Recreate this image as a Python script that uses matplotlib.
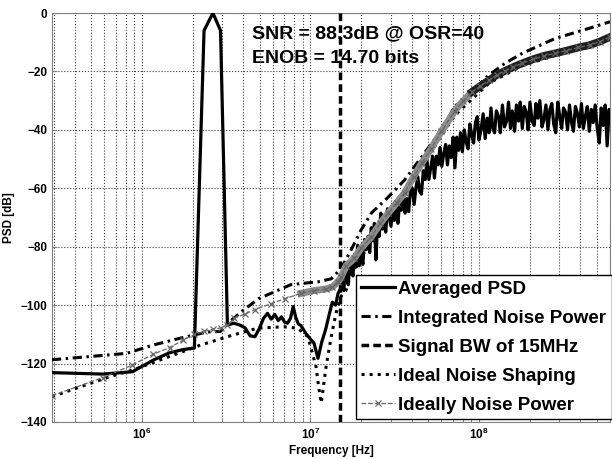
import numpy as np
import matplotlib.pyplot as plt
from matplotlib.ticker import NullFormatter

plt.rcParams['font.family'] = ['Liberation Sans', 'DejaVu Sans']
plt.rcParams['font.weight'] = 'bold'
plt.rcParams['mathtext.fontset'] = 'custom'
plt.rcParams['mathtext.rm'] = 'Liberation Sans:bold'
plt.rcParams['mathtext.bf'] = 'Liberation Sans:bold'

# averaged PSD, low part (FFT bins, MHz / dB)
psd_lo_f = [0.293, 0.586, 0.879, 1.17, 1.46, 1.76, 2.05, 2.34, 2.64, 2.93,
            3.22, 3.52, 3.81, 4.10, 4.39, 4.69, 4.98, 5.27, 5.57, 5.86,
            6.15, 6.45, 6.74, 7.03, 7.32, 7.62, 7.91, 8.20, 8.50, 8.79,
            9.38, 9.96, 10.5, 11.1, 11.7, 12.3, 12.9, 13.5, 14.1, 14.6, 15.2]
psd_lo_db = [-123.1, -123.6, -122.8, -118.8, -116.3, -115.2, -114.7, -6, 0, -6,
             -106.8, -106.2, -106.8, -107.8, -110.5, -110.8, -108, -104.5, -102.8, -104.8,
             -103.2, -105.3, -104, -105.8, -106.2, -104.5, -100.5, -104.3, -106.5, -107,
             -109.6, -111.5, -113, -118.2, -112.5, -108.5, -103.5, -99, -100, -96, -94]

# averaged PSD, noisy part above the signal band (MHz / dB)
psd_hi_f = [15.5, 15.8, 16.1, 16.4, 16.8, 17.1, 17.5, 17.9, 18.3, 18.7,
            19.1, 19.5, 20.0, 20.5, 21.0, 21.5, 22.0, 22.5, 23.0, 23.5,
            24.0, 24.5, 25.0, 25.6, 26.2, 26.8, 27.4, 28.0, 28.7, 29.4,
            30.1, 30.8, 31.5, 32.3, 33.1, 33.9, 34.7, 35.6, 36.5, 37.4,
            38.3, 39.3, 40.3, 41.3, 42.3, 43.4, 44.5, 45.6, 46.8, 48.0,
            49.2, 50.5, 51.8, 53.1, 54.5, 55.9, 57.3, 58.8, 60.3, 61.9,
            63.5, 65.1, 66.8, 68.5, 70.3, 72.1, 74.0, 75.9, 77.8, 79.8,
            81.9, 84.0, 86.2, 88.4, 90.7, 93.0, 95.4, 97.9, 100, 103,
            106, 109, 112, 115, 118, 121, 124, 127, 131, 134,
            138, 142, 146, 150, 154, 158, 163, 167, 172, 176,
            181, 186, 191, 196, 201, 207, 213, 218, 224, 230,
            237, 243, 250, 257, 264, 271, 278, 286, 294, 302,
            310, 318, 327, 336, 345, 355, 364, 374, 385, 395,
            406, 417, 428, 440, 452, 465, 477, 490, 504, 518,
            532, 547, 562, 577, 593, 600]
psd_hi_db = [-90.5, -95, -87, -91, -93, -85, -87, -90, -82.5, -87,
             -79.5, -86.5, -82, -86, -77.5, -81, -76.5, -82, -73.5, -78,
             -72, -84.5, -73, -76.5, -68.5, -74, -69.5, -75, -67, -70,
             -73, -65.5, -71, -66, -72, -64.5, -67.5, -62, -68.5, -63.5,
             -68, -60.5, -60, -65.5, -60, -56, -61, -62, -54, -57,
             -50.5, -57, -53, -49, -56.5, -49, -52, -46, -52.5, -48,
             -45, -52, -45.5, -49.5, -42.5, -53, -42.5, -47, -41, -47.5,
             -40, -44, -46.5, -38, -41.5, -44.5, -37.5, -35.5, -43.5, -40,
             -34.5, -43, -36, -41, -32.5, -39.5, -41, -33.5, -35.5, -41,
             -31.5, -39, -37, -30.5, -39.5, -33.5, -40.5, -31.5, -37, -30.5,
             -39.5, -32, -34, -40, -30.5, -37, -38.5, -31, -36, -30,
             -39, -36.5, -31.5, -40, -33, -31, -38, -41, -30.5, -35.5,
             -39.5, -32.5, -34, -40, -31.5, -37.5, -40.5, -32, -34.5, -39,
             -31, -39.5, -35.5, -32, -40.5, -33, -37.5, -31.5, -39.5, -44.5,
             -32.5, -38.5, -31.5, -45.5, -33, -37.5]

# integrated noise power
int_f = [0.293, 0.814, 1.16, 1.69, 2.44, 2.92, 3.13, 3.85, 4.93, 7.65,
         11.1, 13.3, 15.2, 17.5, 20.0, 23.0, 29.0, 36.2, 45.7, 60.1,
         71.9, 90.8, 115, 143, 181, 284, 454, 600]
int_db = [-118.7, -116.5, -113.7, -111.3, -109.2, -109, -107, -102.5, -97.8, -93,
          -92, -91, -87.5, -81, -74.3, -68.5, -63, -57.2, -49.3, -40,
          -32, -27, -21.2, -17.2, -13.8, -8.7, -5.2, -3]

bw_hz = 15e6

# ideal noise shaping
ideal_f = [0.293, 0.644, 0.884, 2.22, 3.49, 4.86, 6.95, 8.42, 9.66, 10.8,
           11.2, 11.6, 12.4, 13.3, 14.2, 15.2, 16.3, 17.5, 21.4, 23.0,
           31.1, 45.7, 71.9, 115, 181, 284, 454, 600]
ideal_db = [-131.3, -124.5, -122.2, -113.7, -110.2, -107.9, -107.4, -107.9, -110.8, -121,
            -128, -133.5, -121, -110.8, -102.7, -97, -94.8, -89, -81, -77.5,
            -67, -52.5, -35, -24, -18, -14.5, -11.5, -8.6]

# ideally noise power
pow_f = [0.293, 0.586, 0.879, 1.17, 1.46, 1.76, 2.05, 2.34, 2.64, 2.93,
         3.22, 3.52, 4.10, 4.69, 5.86, 7.03, 8.79, 10.5, 12.3, 13.5,
         14.6, 15.2, 16.3, 18.2, 20.0, 23.0, 26.0, 29.0, 32.5, 36.2,
         41.0, 45.7, 52, 60, 72, 81, 91, 102, 115, 128,
         143, 160, 181, 210, 245, 284, 330, 390, 454, 520, 600]
pow_db = [-131, -124.8, -120.5, -116.8, -114.5, -112, -110, -109, -108.3, -107.8,
          -106.8, -104.5, -103, -101.5, -99.5, -97.8, -96, -95, -94.5, -93.8,
          -92, -90.5, -86.5, -84, -80.5, -76.6, -72, -68.5, -65, -61.6,
          -56, -51.5, -46.5, -40.5, -33.5, -30, -27, -25, -23, -21.2,
          -19.8, -18.5, -17.2, -15.8, -14.6, -13.8, -12.9, -11.8, -11, -9.8, -8.2]

psd_f = np.array(psd_lo_f + psd_hi_f) * 1e6
psd_db = np.array(psd_lo_db + psd_hi_db)
int_f = np.array(int_f) * 1e6
ideal_f = np.array(ideal_f) * 1e6
pow_f = np.array(pow_f) * 1e6
pow_db = np.array(pow_db)

fig = plt.figure(figsize=(6.12, 4.59), dpi=100)
ax = fig.add_axes([52 / 612, 1 - 422 / 459, 558 / 612, 409 / 459])

ax.plot(psd_f, psd_db, color='k', lw=2.3, label='Averaged PSD', zorder=3)
l, = ax.plot(int_f, int_db, color='k', lw=2.2, label='Integrated Noise Power', zorder=4)
l.set_dashes([3, 1.5, 0.8, 1.5])
ax.axvline(bw_hz, color='k', lw=2.5, dashes=(2.2, 1.2), label='Signal BW of 15MHz', zorder=4)
ax.plot(ideal_f, ideal_db, color='k', lw=2.2, ls=':', label='Ideal Noise Shaping', zorder=5)

# dense markers of the ideal power curve form a thick band
m1 = (pow_f > 8e6) & (pow_f < 95e6)
m2 = pow_f > 85e6
ax.plot(pow_f[m1], pow_db[m1], color='0.55', lw=5, zorder=5.5)
ax.plot(pow_f[m2], pow_db[m2], color='0.12', lw=5.5, zorder=5.5)
ax.plot(pow_f, pow_db, color='0.4', lw=0.9, ls='--', marker='x', ms=5, mew=0.9,
        label='Ideally Noise Power', zorder=6)

ax.set_xscale('log')
ax.set_xlim(2.93e5, 6e8)
ax.set_ylim(-140, 0)
ax.set_yticks(range(-140, 1, 20))
ax.set_xticks([1e6, 1e7, 1e8])
ax.set_xticklabels([r'$\mathbf{10^{6}}$', r'$\mathbf{10^{7}}$', r'$\mathbf{10^{8}}$'])
ax.xaxis.set_minor_formatter(NullFormatter())
ax.tick_params(which='both', direction='in', labelsize=8.5, color='0.5')
ax.grid(which='major', ls=':', color='0.25', lw=0.8)
ax.grid(which='minor', axis='x', ls=':', color='0.25', lw=0.8)
for s in ax.spines.values():
    s.set_color('0.5')

ax.set_xlabel('Frequency [Hz]', fontsize=8.5, fontweight='bold', labelpad=2)
ax.set_ylabel('PSD [dB]', fontsize=8.5, fontweight='bold', labelpad=4)

ax.text(0.358, 0.939, 'SNR = 88.3dB @ OSR=40', transform=ax.transAxes,
        fontsize=14, fontweight='bold', va='baseline', zorder=1)
ax.text(0.358, 0.878, 'ENOB = 14.70 bits', transform=ax.transAxes,
        fontsize=14, fontweight='bold', va='baseline', zorder=1)

leg = ax.legend(loc='lower right', bbox_to_anchor=(1.008, 0.0), borderaxespad=0.15,
                prop={'size': 13.5, 'weight': 'bold'}, handlelength=1.8,
                handletextpad=0.15, labelspacing=0.63, borderpad=0.3,
                fancybox=False, edgecolor='k', framealpha=1)
leg.get_frame().set_linewidth(1.0)
leg.set_zorder(10)

fig.savefig('out.png', dpi=100)
